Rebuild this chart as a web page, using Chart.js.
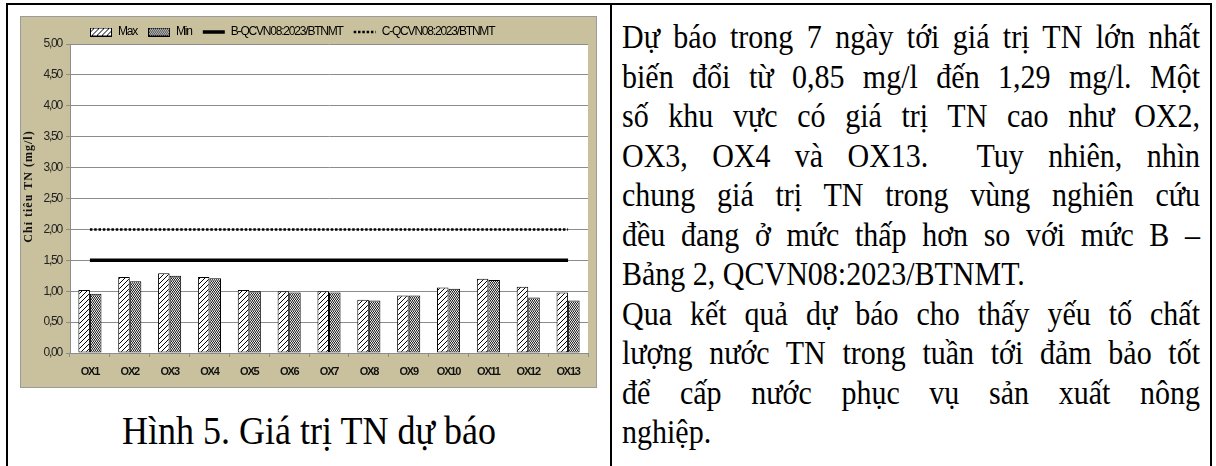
<!DOCTYPE html>
<html>
<head>
<meta charset="utf-8">
<script src="https://cdn.jsdelivr.net/npm/chart.js@4.4.0/dist/chart.umd.min.js"></script>
<style>
  html, body { margin: 0; padding: 0; background: #fff; }
  body { width: 1216px; height: 466px; position: relative; overflow: hidden; font-family: "Liberation Serif", "Times New Roman", serif; color: #000; }
  .rule { position: absolute; background: #000; }
  #chartBox { position: absolute; left: 20px; top: 16px; width: 577px; height: 372px; box-sizing: border-box; border: 1px solid #9b9b9b; background: #c9c19d; }
  #caption { position: absolute; left: 8px; width: 602px; top: 411px; text-align: center; font-size: 36px; line-height: 40px; transform: scaleY(1.1); }
  #text { position: absolute; left: 622px; width: 578px; top: 17px; font-family: "Liberation Serif", "Times New Roman", serif; font-size: 30px; line-height: 39.5px; }
  #text p { margin: 0; text-align: justify; text-align-last: justify; transform: scaleY(1.14); }
  #text p.l { text-align: left; text-align-last: left; }
</style>
</head>
<body>
<div class="rule" style="left:6px; top:3px; width:1206px; height:2px;"></div>
<div class="rule" style="left:6px; top:3px; width:2px; height:463px;"></div>
<div class="rule" style="left:610px; top:3px; width:2px; height:463px;"></div>
<div class="rule" style="left:1210px; top:3px; width:2px; height:463px;"></div>

<div id="chartBox"><canvas id="chart"></canvas></div>
<div id="caption">Hình 5. Giá trị TN dự báo</div>

<div id="text">
  <p>Dự báo trong 7 ngày tới giá trị TN lớn nhất</p>
  <p>biến đổi từ 0,85 mg/l đến 1,29 mg/l. Một</p>
  <p>số khu vực có giá trị TN cao như OX2,</p>
  <p>OX3, OX4 và OX13.&nbsp; Tuy nhiên, nhìn</p>
  <p>chung giá trị TN trong vùng nghiên cứu</p>
  <p>đều đang ở mức thấp hơn so với mức B –</p>
  <p class="l">Bảng 2, QCVN08:2023/BTNMT.</p>
  <p>Qua kết quả dự báo cho thấy yếu tố chất</p>
  <p>lượng nước TN trong tuần tới đảm bảo tốt</p>
  <p>để cấp nước phục vụ sản xuất nông</p>
  <p class="l">nghiệp.</p>
</div>

<script>
const categories = ["OX1", "OX2", "OX3", "OX4", "OX5", "OX6", "OX7", "OX8", "OX9", "OX10", "OX11", "OX12", "OX13"];
const maxValues = [1.02, 1.23, 1.29, 1.23, 1.02, 1.00, 1.00, 0.86, 0.93, 1.06, 1.20, 1.07, 0.98];
const minValues = [0.96, 1.16, 1.25, 1.21, 1.00, 0.98, 0.98, 0.85, 0.93, 1.04, 1.18, 0.90, 0.85];
const limitB = [1.5, 1.5, 1.5, 1.5, 1.5, 1.5, 1.5, 1.5, 1.5, 1.5, 1.5, 1.5, 1.5];
const limitC = [2.0, 2.0, 2.0, 2.0, 2.0, 2.0, 2.0, 2.0, 2.0, 2.0, 2.0, 2.0, 2.0];
const yTickValues = [0, 0.5, 1, 1.5, 2, 2.5, 3, 3.5, 4, 4.5, 5];

const sans = "'Liberation Sans', Arial, sans-serif";
const tight = "-1.2px"; // squeeze Arial toward the narrow Calibri look

// hatch "/" for Max
function hatchPattern() {
  const c = document.createElement("canvas");
  c.width = 5; c.height = 5;
  const g = c.getContext("2d");
  g.fillStyle = "#fff";
  g.fillRect(0, 0, 5, 5);
  g.strokeStyle = "#000";
  g.lineWidth = 1;
  g.beginPath();
  g.moveTo(-1, 6); g.lineTo(6, -1);
  g.stroke();
  return g.createPattern(c, "repeat");
}

// fine dotted grid for Min
function dotPattern() {
  const c = document.createElement("canvas");
  c.width = 4; c.height = 3;
  const g = c.getContext("2d");
  g.fillStyle = "#ececec";
  g.fillRect(0, 0, 4, 3);
  g.fillStyle = "#222";
  g.fillRect(0, 0, 1, 1); g.fillRect(2, 0, 1, 1);
  g.fillRect(1, 1, 1, 1); g.fillRect(3, 1, 1, 1);
  g.fillStyle = "#888";
  g.fillRect(0, 2, 4, 1);
  return g.createPattern(c, "repeat");
}

function swatch(fill) {
  const c = document.createElement("canvas");
  c.width = 22; c.height = 9;
  const g = c.getContext("2d");
  g.fillStyle = fill;
  g.fillRect(0, 0, 22, 9);
  g.strokeStyle = "#000";
  g.lineWidth = 1;
  g.strokeRect(0.5, 0.5, 21, 8);
  return c;
}

const maxFill = hatchPattern();
const minFill = dotPattern();

const plotBg = {
  id: "plotBg",
  beforeLayout(chart) {
    chart.ctx.letterSpacing = tight;
  },
  beforeDraw(chart) {
    const ctx = chart.ctx;
    ctx.letterSpacing = tight;
    const a = chart.chartArea;
    ctx.save();
    ctx.fillStyle = "#fff";
    ctx.fillRect(a.left, a.top, a.right - a.left, a.bottom - a.top);
    ctx.restore();
  }
};

// legend starts at a fixed x in the original, a bit left of centre
// y title is letter-spaced and sits a little above the middle
const tweaks = {
  id: "tweaks",
  afterLayout(chart) {
    const L = chart.legend;
    const p = L.options.labels.padding;
    const start = (L.left + p + L.right - L.lineWidths[0]) / 2;
    const d = 69 - start;
    L.left += d;
    L.right += d;

    const y = chart.scales.y;
    if (!y._titlePatched) {
      const orig = y.drawTitle.bind(y);
      y.drawTitle = function () {
        const ctx = this.ctx;
        ctx.save();
        ctx.translate(0, -12);
        ctx.letterSpacing = "1px";
        orig();
        ctx.restore();
      };
      y._titlePatched = true;
    }
  }
};

new Chart(document.getElementById("chart"), {
  data: {
    labels: categories,
    datasets: [
      { type: "bar", label: "Max", data: maxValues, backgroundColor: maxFill, borderColor: "#000", borderWidth: 1, borderSkipped: false, order: 2 },
      { type: "bar", label: "Min", data: minValues, backgroundColor: minFill, borderColor: "#000", borderWidth: 1, borderSkipped: false, order: 2 },
      { type: "line", label: "B-QCVN08:2023/BTNMT", data: limitB, borderColor: "#000", borderWidth: 3.5, pointRadius: 0, fill: false, order: 1 },
      { type: "line", label: "C-QCVN08:2023/BTNMT", data: limitC, borderColor: "#000", borderWidth: 2.5, borderDash: [2.5, 1.8], pointRadius: 0, fill: false, order: 1 }
    ]
  },
  options: {
    responsive: true,
    maintainAspectRatio: false,
    animation: false,
    layout: { padding: { top: -2, right: 8, left: 0, bottom: 0 } },
    datasets: {
      bar: { categoryPercentage: 0.58, barPercentage: 1 }
    },
    plugins: {
      tooltip: { enabled: false },
      legend: {
        position: "top",
        maxHeight: 29,
        labels: {
          usePointStyle: true,
          pointStyleWidth: 22,
          padding: 11,
          color: "#111",
          font: { family: sans, size: 12 },
          generateLabels: () => [
            { text: "Max", pointStyle: swatch(maxFill), lineWidth: 0, fillStyle: "#fff", strokeStyle: "#000", datasetIndex: 0 },
            { text: "Min", pointStyle: swatch(minFill), lineWidth: 0, fillStyle: "#fff", strokeStyle: "#000", datasetIndex: 1 },
            { text: "B-QCVN08:2023/BTNMT", pointStyle: "line", lineWidth: 3.5, strokeStyle: "#000", fillStyle: "#000", datasetIndex: 2 },
            { text: "C-QCVN08:2023/BTNMT", pointStyle: "line", lineWidth: 2.5, lineDash: [2.5, 1.8], strokeStyle: "#000", fillStyle: "#000", datasetIndex: 3 }
          ]
        }
      }
    },
    scales: {
      x: {
        offset: true,
        afterFit: (s) => { s.height = 34; },
        grid: { display: true, drawOnChartArea: false, drawTicks: true, tickLength: 4, color: "#8c8c8c", offset: true },
        border: { display: true, color: "#8c8c8c", width: 1 },
        ticks: { color: "#111", padding: 8, font: { family: sans, size: 11, weight: "bold" }, maxRotation: 0, autoSkip: false }
      },
      y: {
        min: 0,
        max: 5,
        afterFit: (s) => { s.width = 49; },
        afterBuildTicks: (s) => { s.ticks = yTickValues.map((v) => ({ value: v })); },
        grid: { color: "#8c8c8c", lineWidth: 1, tickLength: 4 },
        border: { display: true, color: "#8c8c8c", width: 1 },
        ticks: {
          color: "#222",
          padding: 4,
          font: { family: sans, size: 12 },
          callback: (v) => Number(v).toFixed(2).replace(".", ",")
        },
        title: {
          display: true,
          text: "Chỉ tiêu TN (mg/l)",
          color: "#111",
          padding: { top: 1, bottom: 0 },
          font: { family: "'Liberation Serif', 'Times New Roman', serif", size: 12, weight: "bold" }
        }
      }
    }
  },
  plugins: [plotBg, tweaks]
});
</script>
</body>
</html>
